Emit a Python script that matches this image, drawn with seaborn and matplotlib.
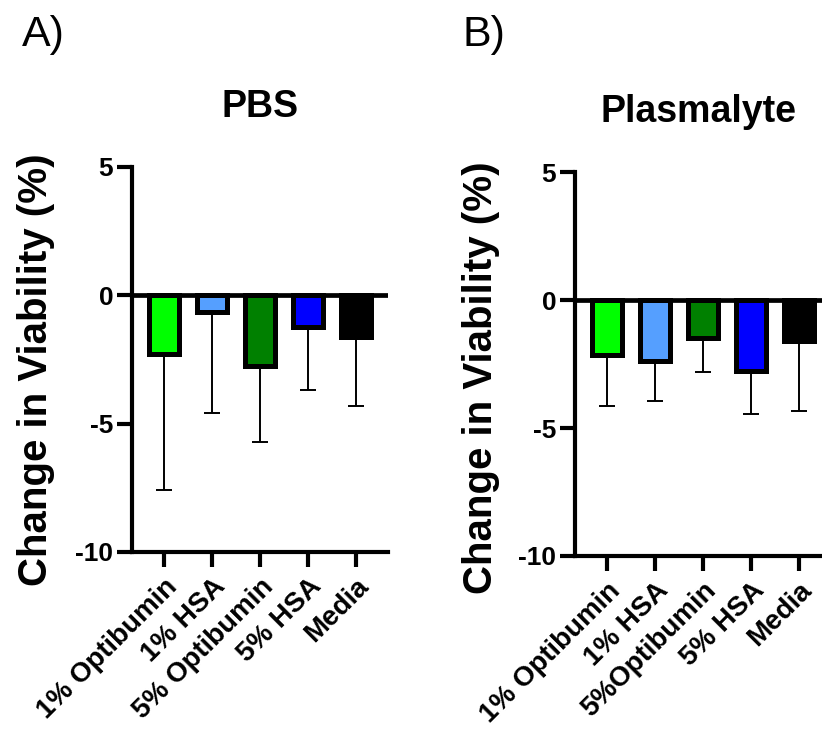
import matplotlib
matplotlib.use("Agg")
import matplotlib.pyplot as plt
import seaborn as sns
import numpy as np
import pandas as pd

# values
pbs_labels = ["1% Optibumin", "1% HSA", "5% Optibumin", "5% HSA", "Media"]
pbs_mean = [-2.3, -0.66, -2.77, -1.25, -1.62]
pbs_err = [5.28, 3.91, 2.93, 2.42, 2.71]

pl_labels = ["1% Optibumin", "1% HSA", "5%Optibumin", "5% HSA", "Media"]
pl_mean = [-2.15, -2.38, -1.48, -2.77, -1.62]
pl_err = [1.99, 1.57, 1.33, 1.68, 2.71]

colors = ["#00ff00", "#559fff", "#008000", "#0000ff", "#000000"]

sns.set_theme(style="ticks")
plt.rcParams["font.family"] = ["Liberation Sans", "DejaVu Sans"]
plt.rcParams["axes.unicode_minus"] = False
plt.rcParams["text.color"] = "black"
plt.rcParams["axes.labelcolor"] = "black"
plt.rcParams["xtick.color"] = "black"
plt.rcParams["ytick.color"] = "black"

fig = plt.figure(figsize=(8.22, 7.31), dpi=100)
ax1 = fig.add_axes([0.1606, 0.2449, 0.3114, 0.5267])
ax2 = fig.add_axes([0.6995, 0.2394, 0.3005, 0.5253])


def draw(ax, labels, means, errs, title, xmax):
    df = pd.DataFrame({"group": labels, "value": means})
    sns.barplot(data=df, x="group", y="value", hue="group", palette=colors,
                saturation=1, legend=False, width=0.62, edgecolor="black",
                linewidth=3.6, errorbar=None, ax=ax)
    x = np.arange(len(labels))
    ax.errorbar(x, means, yerr=[errs, np.zeros(len(errs))], fmt="none",
                ecolor="black", elinewidth=1.4, capsize=5.8, capthick=1.4,
                zorder=1)
    ax.axhline(0, color="black", linewidth=3.4, zorder=5)
    ax.set_ylim(-10, 5)
    ax.set_xlim(-0.67, xmax)
    ax.set_yticks([5, 0, -5, -10])
    ax.set_yticklabels(["5", "0", "-5", "-10"], fontsize=19, fontweight="bold")
    ax.set_xticks(x)
    ax.set_xticklabels(labels, rotation=45, ha="right", rotation_mode="anchor",
                       fontsize=20, fontweight="bold")
    ax.tick_params(axis="both", width=3, length=10.5, color="black")
    ax.tick_params(axis="x", pad=5)
    ax.tick_params(axis="y", pad=3)
    for s in ["top", "right"]:
        ax.spines[s].set_visible(False)
    for s in ["left", "bottom"]:
        ax.spines[s].set_linewidth(3)
        ax.spines[s].set_color("black")
    ax.set_xlabel("")
    ax.set_ylabel("Change in Viability (%)", fontsize=29, fontweight="bold")
    ax.set_title(title, fontsize=27, fontweight="bold", pad=36)


draw(ax1, pbs_labels, pbs_mean, pbs_err, "PBS", 4.67)
draw(ax2, pl_labels, pl_mean, pl_err, "Plasmalyte", 4.48)
ax1.yaxis.set_label_coords(-0.30, 0.473)
ax2.yaxis.set_label_coords(-0.304, 0.464)

fig.text(22 / 822, 1 - 46 / 731, "A)", fontsize=31)
fig.text(462 / 822, 1 - 46 / 731, "B)", fontsize=31)

fig.savefig("out.png", dpi=100)
